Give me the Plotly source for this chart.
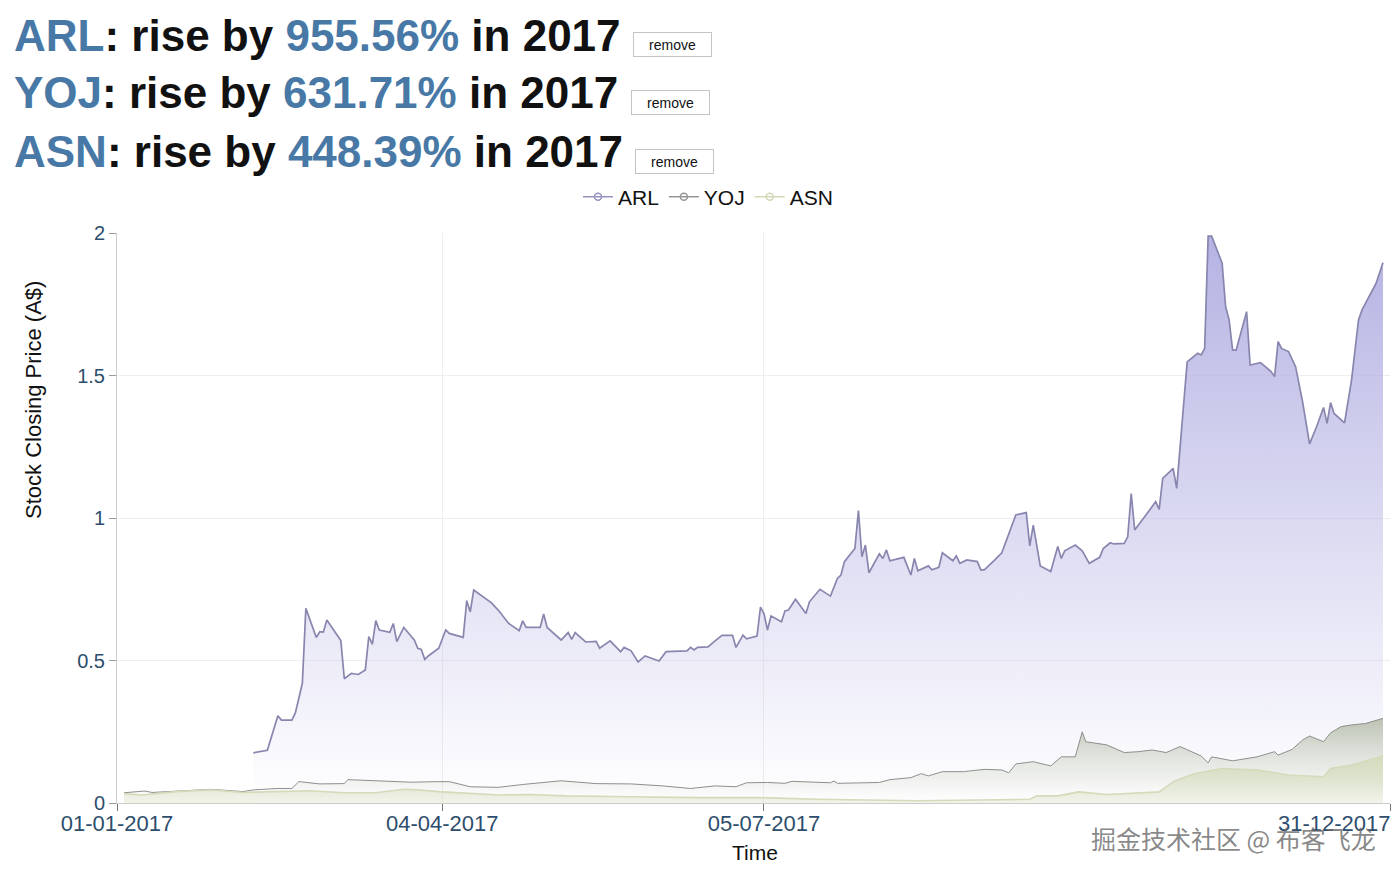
import pandas as pd
import plotly.graph_objects as go

# ---------------- data (day offset from 1 Jan 2017, closing price A$) ----------------
arl_day = [39, 43, 46, 47, 50, 51, 53, 54, 57, 58, 59, 60, 64, 65, 67, 69, 71, 72, 73, 74,
           75, 78, 79, 80, 82, 85, 86, 87, 88, 89, 92, 94, 95, 99, 100, 101, 102, 107, 109, 112,
           115, 116, 117, 121, 122, 123, 127, 129, 130, 131, 134, 137, 138, 141, 144, 145, 147, 149, 151, 155,
           157, 163, 164, 165, 166, 169, 171, 173, 176, 177, 179, 180, 183, 184, 185, 186, 187, 190, 191, 192,
           194, 197, 198, 201, 204, 206, 207, 208, 211, 212, 213, 214, 215, 218, 219, 220, 221, 225, 227, 228,
           229, 232, 233, 235, 236, 239, 240, 241, 243, 246, 247, 248, 251, 253, 257, 260, 261, 262, 264, 267,
           269, 270, 271, 274, 276, 278, 281, 282, 284, 285, 288, 289, 290, 291, 294, 297, 298, 299, 302, 303,
           306, 309, 310, 311, 312, 313, 316, 317, 318, 319, 320, 323, 324, 326, 327, 330, 331, 332, 333, 335,
           337, 339, 341, 343, 345, 346, 347, 348, 351, 353, 354, 355, 356, 359, 360, 362]
arl_val = [0.176, 0.185, 0.306, 0.291, 0.291, 0.316, 0.42, 0.683, 0.581, 0.601, 0.60, 0.642, 0.57, 0.436, 0.455, 0.451, 0.467, 0.584, 0.557, 0.64,
           0.607, 0.599, 0.63, 0.566, 0.616, 0.572, 0.543, 0.539, 0.504, 0.516, 0.543, 0.607, 0.595, 0.581, 0.71, 0.671, 0.747, 0.703, 0.677, 0.63,
           0.605, 0.639, 0.616, 0.616, 0.663, 0.616, 0.572, 0.598, 0.574, 0.598, 0.565, 0.567, 0.543, 0.569, 0.531, 0.546, 0.534, 0.495, 0.516, 0.498,
           0.531, 0.534, 0.546, 0.537, 0.546, 0.548, 0.569, 0.588, 0.588, 0.546, 0.589, 0.576, 0.586, 0.687, 0.665, 0.607, 0.656, 0.636, 0.674, 0.677,
           0.715, 0.665, 0.706, 0.75, 0.726, 0.788, 0.80, 0.847, 0.893, 1.026, 0.864, 0.905, 0.808, 0.874, 0.858, 0.888, 0.85, 0.862, 0.80, 0.858,
           0.815, 0.832, 0.818, 0.827, 0.878, 0.85, 0.867, 0.841, 0.853, 0.847, 0.818, 0.818, 0.853, 0.878, 1.011, 1.019, 0.902, 0.975, 0.832, 0.812,
           0.90, 0.858, 0.885, 0.905, 0.885, 0.841, 0.862, 0.893, 0.913, 0.909, 0.911, 0.934, 1.086, 0.958, 1.007, 1.057, 1.03, 1.139, 1.174, 1.104,
           1.548, 1.578, 1.572, 1.595, 1.989, 1.989, 1.894, 1.741, 1.695, 1.589, 1.589, 1.724, 1.537, 1.543, 1.545, 1.514, 1.496, 1.619, 1.595, 1.584,
           1.531, 1.408, 1.26, 1.32, 1.388, 1.332, 1.405, 1.367, 1.334, 1.484, 1.601, 1.695, 1.73, 1.80, 1.823, 1.896]

yoj_day = [2, 8, 10, 27, 36, 39, 46, 50, 52, 58, 65, 66, 74, 84, 92, 95, 101, 109, 116, 127,
           137, 147, 156, 164, 171, 177, 180, 186, 191, 193, 204, 205, 206, 218, 221, 227, 230, 232, 236, 242,
           248, 253, 255, 257, 262, 267, 270, 274, 276, 277, 283, 288, 292, 296, 300, 304, 310, 312, 313, 319,
           326, 331, 332, 336, 339, 341, 345, 347, 350, 353, 357, 362]
yoj_val = [0.036, 0.042, 0.037, 0.048, 0.040, 0.046, 0.051, 0.051, 0.075, 0.067, 0.068, 0.082, 0.078, 0.073, 0.075, 0.075, 0.057, 0.055, 0.065, 0.078,
           0.068, 0.067, 0.060, 0.051, 0.060, 0.057, 0.071, 0.072, 0.069, 0.076, 0.071, 0.077, 0.069, 0.072, 0.082, 0.089, 0.103, 0.095, 0.110, 0.110,
           0.118, 0.116, 0.106, 0.137, 0.145, 0.130, 0.162, 0.162, 0.250, 0.215, 0.204, 0.177, 0.180, 0.186, 0.177, 0.198, 0.165, 0.141, 0.162, 0.148,
           0.162, 0.180, 0.168, 0.188, 0.221, 0.235, 0.215, 0.246, 0.268, 0.274, 0.279, 0.297]

asn_day = [2, 7, 17, 27, 36, 46, 55, 65, 74, 82, 86, 92, 99, 109, 118, 128, 147, 166, 184, 200,
           229, 257, 261, 263, 269, 275, 283, 298, 302, 308, 316, 326, 335, 345, 347, 353, 362]
asn_val = [0.033, 0.028, 0.040, 0.046, 0.037, 0.040, 0.043, 0.036, 0.036, 0.048, 0.046, 0.040, 0.036, 0.028, 0.030, 0.025, 0.022, 0.019, 0.019, 0.013,
           0.008, 0.011, 0.013, 0.025, 0.025, 0.039, 0.030, 0.039, 0.075, 0.103, 0.121, 0.116, 0.098, 0.092, 0.121, 0.133, 0.165]

tick_dates = ["2017-01-01", "2017-04-04", "2017-07-05", "2017-12-31"]
tick_text = ["01-01-2017", "04-04-2017", "05-07-2017", ""]
last_tick_label = "31-12-2017"
y_ticks = [0, 0.5, 1, 1.5, 2]
y_tick_text = ["0", "0.5", "1", "1.5", "2"]

headlines = [("ARL", "955.56%"), ("YOJ", "631.71%"), ("ASN", "448.39%")]

# ---------------- helpers ----------------
base = pd.Timestamp("2017-01-01")
def to_dates(days):
    return [base + pd.Timedelta(days=d) for d in days]

FONT = "Liberation Sans, Arial, Helvetica, sans-serif"
BLUE = "#4879a6"
TICK = "#2d4e6c"

series = [
    dict(name="ARL", day=arl_day, val=arl_val, line="rgb(136,134,174)", lw=1.7,
         grad=[[0, "rgba(182,180,228,0.0)"], [0.35, "rgba(182,180,228,0.35)"], [1, "rgba(180,178,226,1)"]],
         stop=2.0, leg="rgb(150,148,192)"),
    dict(name="YOJ", day=yoj_day, val=yoj_val, line="rgb(140,144,140)", lw=1.0,
         grad=[[0, "rgba(208,213,198,0.0)"], [0.5, "rgba(200,206,190,0.45)"], [1, "rgba(176,184,164,0.85)"]],
         stop=0.30, leg="rgb(150,152,150)"),
    dict(name="ASN", day=asn_day, val=asn_val, line="rgb(212,218,186)", lw=1.6,
         grad=[[0, "rgba(218,224,196,0.35)"], [1, "rgba(212,219,188,1)"]],
         stop=0.17, leg="rgb(212,216,184)"),
]

fig = go.Figure()
for s in series:
    fig.add_trace(go.Scatter(
        x=to_dates(s["day"]), y=s["val"], mode="lines", name=s["name"],
        line=dict(color=s["line"], width=s["lw"]),
        fill="tozeroy",
        fillgradient=dict(type="vertical", colorscale=s["grad"], start=0, stop=s["stop"]),
        showlegend=False, hoverinfo="x+y",
    ))
for s in series:
    fig.add_trace(go.Scatter(
        x=[None], y=[None], mode="lines+markers", name=s["name"],
        line=dict(color=s["leg"], width=1.5),
        marker=dict(symbol="circle-open", size=7, color=s["leg"], line=dict(width=1.5)),
        showlegend=True,
    ))

# page body has an 8px margin, so the figure is offset by OFF inside the window
OFF = 8
W, H = 1392, 868
L, T = 117 - OFF, 233 - OFF
R = W - (1390 - OFF)
B = H - (803 - OFF)
pw, ph = W - L - R, H - T - B
def px(x):
    return (x - OFF - L) / pw
def py(y):
    return (H - B - (y - OFF)) / ph

ann = []
rows_y = [35, 93, 151]
btn = [(672.5, 44.5), (670.5, 103), (674.5, 161.5)]
for (name, pct), yy, (bx, by) in zip(headlines, rows_y, btn):
    ann.append(dict(
        text=f"<b><span style='color:{BLUE}'>{name}</span>: rise by "
             f"<span style='color:{BLUE}'>{pct}</span> in 2017</b>",
        xref="paper", yref="paper", x=px(12), y=py(yy), xanchor="left", yanchor="middle",
        showarrow=False, font=dict(family=FONT, size=44, color="#111111")))
    ann.append(dict(
        text="remove", xref="paper", yref="paper", x=px(bx), y=py(by),
        xanchor="center", yanchor="middle", showarrow=False,
        font=dict(family=FONT, size=14, color="#111111"),
        bgcolor="#ffffff", bordercolor="#c4c4c4", borderwidth=1, borderpad=1,
        width=75, height=21))

ann.append(dict(text="Stock Closing Price (A$)", xref="paper", yref="paper",
                x=px(33), y=py(400), textangle=-90, showarrow=False,
                xanchor="center", yanchor="middle",
                font=dict(family=FONT, size=22, color="#111111")))
ann.append(dict(text="Time", xref="paper", yref="paper", x=px(755), y=py(852),
                showarrow=False, xanchor="center", yanchor="middle",
                font=dict(family=FONT, size=21, color="#111111")))
ann.append(dict(text=last_tick_label, xref="paper", yref="paper", x=px(1393), y=py(823),
                showarrow=False, xanchor="right", yanchor="middle",
                font=dict(family=FONT, size=22, color=TICK)))
ann.append(dict(text="掘金技术社区 @ 布客飞龙", xref="paper", yref="paper",
                x=px(1233), y=py(838), showarrow=False, xanchor="center", yanchor="middle",
                font=dict(family="Noto Sans CJK SC", size=25, color="rgba(105,105,105,0.8)")))

fig.update_layout(
    width=W, height=H,
    margin=dict(l=L, r=R, t=T, b=B, pad=0, autoexpand=False),
    paper_bgcolor="white", plot_bgcolor="white",
    font=dict(family=FONT, color="#111111"),
    annotations=ann,
    legend=dict(orientation="h", xref="container", yref="container",
                x=(708 - OFF) / W, y=1 - (197 - OFF) / H, xanchor="center", yanchor="middle",
                font=dict(family=FONT, size=21, color="#111111"),
                itemwidth=30, bgcolor="rgba(0,0,0,0)"),
    xaxis=dict(type="date", range=["2017-01-01", "2017-12-31"],
               tickvals=tick_dates, ticktext=tick_text,
               showgrid=True, gridcolor="#eeeeee", gridwidth=1,
               showline=True, linecolor="#cccccc", linewidth=1,
               ticks="", ticklabelstandoff=1, automargin=False,
               minor=dict(tickvals=tick_dates, ticks="outside", ticklen=7,
                          tickcolor="#777777", showgrid=False),
               tickfont=dict(family=FONT, size=22, color=TICK), zeroline=False),
    yaxis=dict(range=[0, 2], tickvals=y_ticks, ticktext=y_tick_text,
               showgrid=True, gridcolor="#eeeeee", gridwidth=1,
               showline=True, linecolor="#cccccc", linewidth=1,
               ticks="outside", ticklen=7, tickcolor="#999999", automargin=False,
               tickfont=dict(family=FONT, size=20, color=TICK), zeroline=False),
)

fig.write_html("out.html")
